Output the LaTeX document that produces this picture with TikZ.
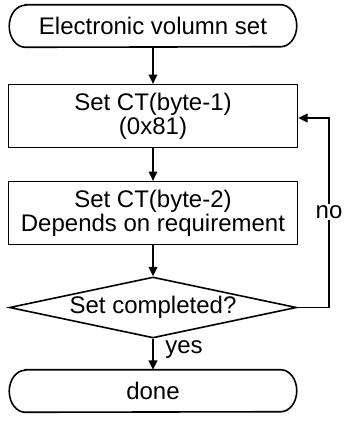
\documentclass[tikz,border=0pt]{standalone}
\usepackage{fontspec}
\setmainfont{Liberation Sans}
\usetikzlibrary{arrows.meta,shapes.geometric}
\begin{document}
\begin{tikzpicture}[x=0.75pt,y=0.75pt,
  every node/.style={font=\fontsize{18}{16}\selectfont, align=center},
  ln/.style={line width=1.2pt},
  arr/.style={ln,-{Triangle[length=7pt,width=6.5pt]}},
  term/.style={rectangle,inner sep=0pt,minimum width=215.25pt,minimum height=31.5pt},
  procbox/.style={ln,draw,rectangle,inner sep=0pt,minimum width=216.75pt,minimum height=47pt},
  decide/.style={ln,draw,diamond,aspect=4.705,inner sep=0pt,minimum width=215.25pt,minimum height=45.75pt}]
\useasboundingbox (0,0) rectangle (343,-421);
\newcommand\termframe[1]{%
  \draw[ln] ([xshift=12pt]#1.north west) -- ([xshift=-12pt]#1.north east)
    arc[start angle=90,end angle=-90,x radius=12pt,y radius=15.75pt]
    -- ([xshift=12pt]#1.south west)
    arc[start angle=270,end angle=90,x radius=12pt,y radius=15.75pt] -- cycle;}
\node[term] (start) at (153,-26) {Electronic volumn set};
\termframe{start}
\node[procbox] (box1) at (153,-116) {Set CT(byte-1)\\(0x81)};
\node[procbox] (box2) at (153,-213) {Set CT(byte-2)\\Depends on requirement};
\node[decide] (dec) at (153,-307.5) {Set completed?};
\node[term] (done) at (153,-391) {done};
\termframe{done}
\draw[arr] (start.south) -- (box1.north);
\draw[arr] (box1.south) -- (box2.north);
\draw[arr] (box2.south) -- (dec.north);
\draw[arr] (dec.south) -- (done.north);
\coordinate (cr) at (329,-118);
\draw[arr] (dec.east) -| (cr) -- ([yshift=-1.5pt]box1.east);
\node[fill=white,inner sep=1pt] (no) at (329,-212) {no};
\node[anchor=west,inner sep=0pt] (yes) at (165,-350) {yes};
\end{tikzpicture}
\end{document}
